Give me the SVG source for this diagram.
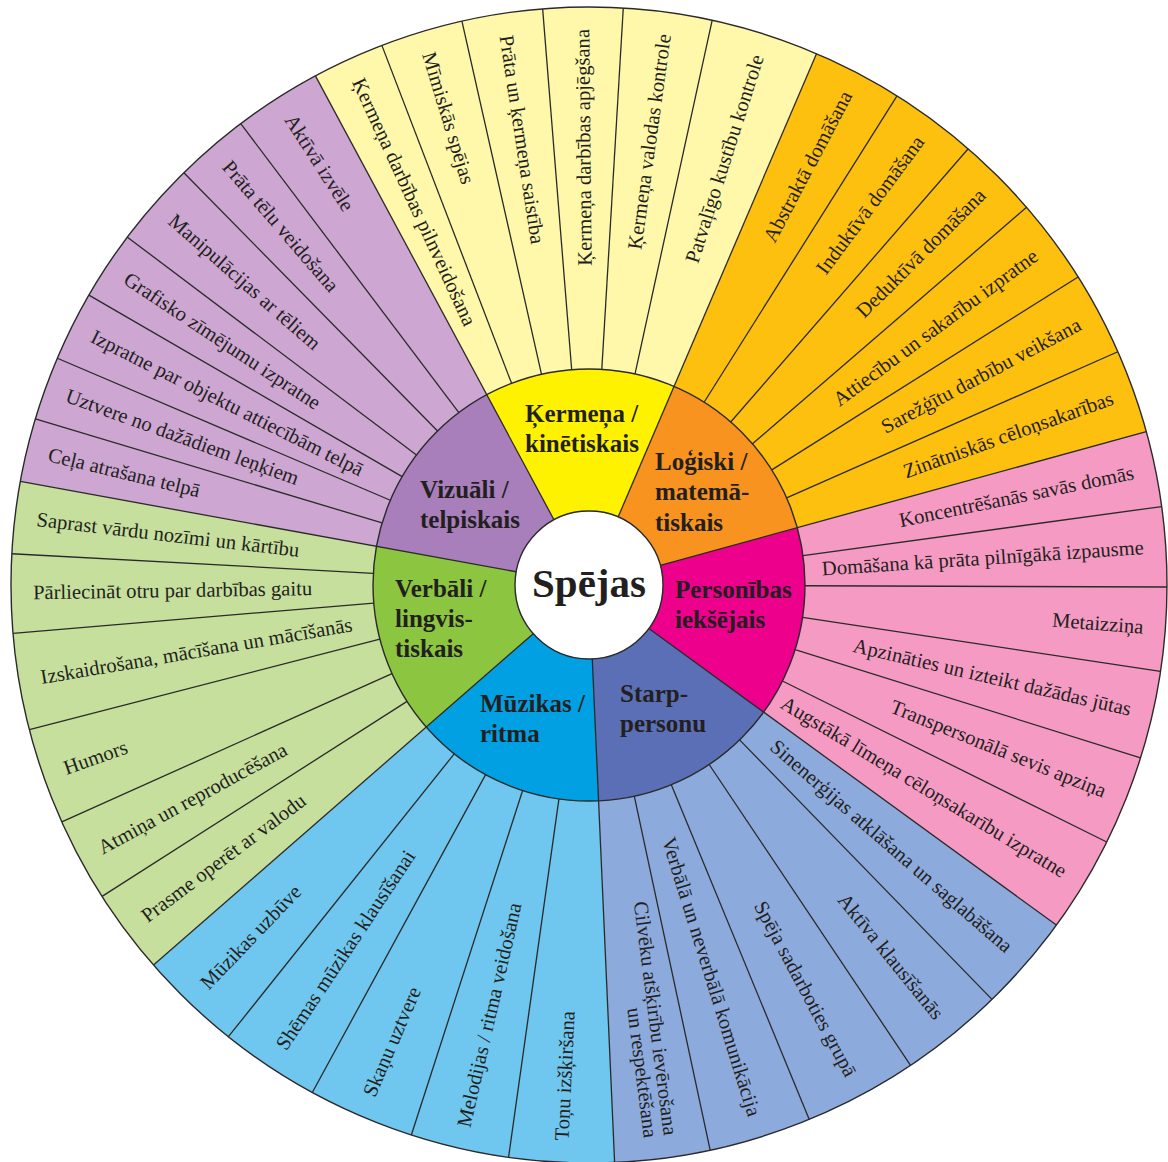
<svg xmlns="http://www.w3.org/2000/svg" xmlns:xlink="http://www.w3.org/1999/xlink" width="1168" height="1162" viewBox="0 0 1168 1162">
<defs>
<style>
.o{font-family:"Liberation Serif","Times New Roman",serif;font-size:20.6px;fill:#231F20}
.m{font-family:"Liberation Serif","Times New Roman",serif;font-size:25px;font-weight:bold;fill:#231F20}
.c{font-family:"Liberation Serif","Times New Roman",serif;font-size:41px;font-weight:bold;fill:#231F20}
.e{text-anchor:end}
.sp line{stroke:#2a2a2a;stroke-width:1.3}
.ring{fill:none;stroke:#2a2a2a;stroke-width:1.4}
</style>
<path id="ow" d="M589 585 L589 7 A578 578 0 0 1 1040.9 224.62 Z"/>
<path id="mw" d="M589 585 L589 369 A216 216 0 0 1 757.88 450.33 Z"/>
</defs>
<rect width="1168" height="1162" fill="#ffffff"/>

<g id="outer-fills">
<use xlink:href="#ow" fill="#FFF8AA" transform="rotate(-28.25 589 585)"/>
<use xlink:href="#ow" fill="#FEC00F" transform="rotate(23.18 589 585)"/>
<use xlink:href="#ow" fill="#F59BC3" transform="rotate(74.61 589 585)"/>
<use xlink:href="#ow" fill="#8DAADC" transform="rotate(126.04 589 585)"/>
<use xlink:href="#ow" fill="#6FC6EE" transform="rotate(177.46 589 585)"/>
<use xlink:href="#ow" fill="#C6DF9C" transform="rotate(228.89 589 585)"/>
<use xlink:href="#ow" fill="#CDA6D2" transform="rotate(280.32 589 585)"/>
</g>
<g id="middle-fills">
<use xlink:href="#mw" fill="#FFF200" transform="rotate(-28.25 589 585)"/>
<use xlink:href="#mw" fill="#F7931E" transform="rotate(23.18 589 585)"/>
<use xlink:href="#mw" fill="#EC008C" transform="rotate(74.61 589 585)"/>
<use xlink:href="#mw" fill="#5A6FB6" transform="rotate(126.04 589 585)"/>
<use xlink:href="#mw" fill="#00A0E2" transform="rotate(177.46 589 585)"/>
<use xlink:href="#mw" fill="#8CC640" transform="rotate(228.89 589 585)"/>
<use xlink:href="#mw" fill="#A87FBA" transform="rotate(280.32 589 585)"/>
</g>

<g id="connectors" class="sp">
<line x1="589" y1="511" x2="589" y2="7" transform="rotate(-28.25 589 585)"/>
<line x1="589" y1="511" x2="589" y2="7" transform="rotate(23.18 589 585)"/>
<line x1="589" y1="511" x2="589" y2="7" transform="rotate(74.61 589 585)"/>
<line x1="589" y1="511" x2="589" y2="7" transform="rotate(126.04 589 585)"/>
<line x1="589" y1="511" x2="589" y2="7" transform="rotate(177.46 589 585)"/>
<line x1="589" y1="511" x2="589" y2="7" transform="rotate(228.89 589 585)"/>
<line x1="589" y1="511" x2="589" y2="7" transform="rotate(280.32 589 585)"/>
<line x1="589" y1="369" x2="589" y2="7" transform="rotate(-21 589 585)"/>
<line x1="589" y1="369" x2="589" y2="7" transform="rotate(-12.7 589 585)"/>
<line x1="589" y1="369" x2="589" y2="7" transform="rotate(-4.6 589 585)"/>
<line x1="589" y1="369" x2="589" y2="7" transform="rotate(3.4 589 585)"/>
<line x1="589" y1="369" x2="589" y2="7" transform="rotate(12.3 589 585)"/>
<line x1="589" y1="369" x2="589" y2="7" transform="rotate(32.2 589 585)"/>
<line x1="589" y1="369" x2="589" y2="7" transform="rotate(41 589 585)"/>
<line x1="589" y1="369" x2="589" y2="7" transform="rotate(49.2 589 585)"/>
<line x1="589" y1="369" x2="589" y2="7" transform="rotate(57.8 589 585)"/>
<line x1="589" y1="369" x2="589" y2="7" transform="rotate(66.2 589 585)"/>
<line x1="589" y1="369" x2="589" y2="7" transform="rotate(82.2 589 585)"/>
<line x1="589" y1="369" x2="589" y2="7" transform="rotate(90.2 589 585)"/>
<line x1="589" y1="369" x2="589" y2="7" transform="rotate(98.6 589 585)"/>
<line x1="589" y1="369" x2="589" y2="7" transform="rotate(107.4 589 585)"/>
<line x1="589" y1="369" x2="589" y2="7" transform="rotate(116.4 589 585)"/>
<line x1="589" y1="369" x2="589" y2="7" transform="rotate(135.8 589 585)"/>
<line x1="589" y1="369" x2="589" y2="7" transform="rotate(146.2 589 585)"/>
<line x1="589" y1="369" x2="589" y2="7" transform="rotate(157.6 589 585)"/>
<line x1="589" y1="369" x2="589" y2="7" transform="rotate(167.9 589 585)"/>
<line x1="589" y1="369" x2="589" y2="7" transform="rotate(188 589 585)"/>
<line x1="589" y1="369" x2="589" y2="7" transform="rotate(197.9 589 585)"/>
<line x1="589" y1="369" x2="589" y2="7" transform="rotate(208.6 589 585)"/>
<line x1="589" y1="369" x2="589" y2="7" transform="rotate(218.6 589 585)"/>
<line x1="589" y1="369" x2="589" y2="7" transform="rotate(237.4 589 585)"/>
<line x1="589" y1="369" x2="589" y2="7" transform="rotate(245.8 589 585)"/>
<line x1="589" y1="369" x2="589" y2="7" transform="rotate(255.5 589 585)"/>
<line x1="589" y1="369" x2="589" y2="7" transform="rotate(265.2 589 585)"/>
<line x1="589" y1="369" x2="589" y2="7" transform="rotate(273.1 589 585)"/>
<line x1="589" y1="369" x2="589" y2="7" transform="rotate(286.7 589 585)"/>
<line x1="589" y1="369" x2="589" y2="7" transform="rotate(293.1 589 585)"/>
<line x1="589" y1="369" x2="589" y2="7" transform="rotate(300.1 589 585)"/>
<line x1="589" y1="369" x2="589" y2="7" transform="rotate(307 589 585)"/>
<line x1="589" y1="369" x2="589" y2="7" transform="rotate(315.5 589 585)"/>
<line x1="589" y1="369" x2="589" y2="7" transform="rotate(322.95 589 585)"/>
</g>

<circle class="ring" cx="589" cy="585" r="578"/>
<circle class="ring" cx="589" cy="585" r="216"/>

<g id="items-kermena">
<text class="o" x="33" y="591" transform="rotate(65.37 589 585)">Ķermeņa darbības pilnveidošana</text>
<text class="o" x="33" y="591" transform="rotate(73.15 589 585)">Mīmiskās spējas</text>
<text class="o" x="33" y="591" transform="rotate(81.35 589 585)">Prāta un ķermeņa saistība</text>
<text class="o e" x="1145" y="591" transform="rotate(-90.6 589 585)">Ķermeņa darbības apjēgšana</text>
<text class="o e" x="1145" y="591" transform="rotate(-82.15 589 585)">Ķermeņa valodas kontrole</text>
<text class="o e" x="1145" y="591" transform="rotate(-72.26 589 585)">Patvaļīgo kustību kontrole</text>
</g>
<g id="items-logiski">
<text class="o e" x="1145" y="591" transform="rotate(-62.31 589 585)">Abstraktā domāšana</text>
<text class="o e" x="1145" y="591" transform="rotate(-53.4 589 585)">Induktīvā domāšana</text>
<text class="o e" x="1145" y="591" transform="rotate(-44.9 589 585)">Deduktīvā domāšana</text>
<text class="o e" x="1145" y="591" transform="rotate(-36.5 589 585)">Attiecību un sakarību izpratne</text>
<text class="o e" x="1145" y="591" transform="rotate(-28 589 585)">Sarežģītu darbību veikšana</text>
<text class="o e" x="1145" y="591" transform="rotate(-19.6 589 585)">Zinātniskās cēloņsakarības</text>
</g>
<g id="items-personibas">
<text class="o e" x="1145" y="591" transform="rotate(-11.6 589 585)">Koncentrēšanās savās domās</text>
<text class="o e" x="1145" y="591" transform="rotate(-3.8 589 585)">Domāšana kā prāta pilnīgākā izpausme</text>
<text class="o e" x="1145" y="591" transform="rotate(4.4 589 585)">Metaizziņa</text>
<text class="o e" x="1145" y="591" transform="rotate(13 589 585)">Apzināties un izteikt dažādas jūtas</text>
<text class="o e" x="1145" y="591" transform="rotate(21.9 589 585)">Transpersonālā sevis apziņa</text>
<text class="o e" x="1145" y="591" transform="rotate(31.22 589 585)">Augstākā līmeņa cēloņsakarību izpratne</text>
</g>
<g id="items-starppersonu">
<text class="o e" x="1145" y="591" transform="rotate(40.92 589 585)">Sinenerģijas atklāšana un saglabāšana</text>
<text class="o e" x="1145" y="591" transform="rotate(51 589 585)">Aktīva klausīšanās</text>
<text class="o e" x="1145" y="591" transform="rotate(61.9 589 585)">Spēja sadarboties grupā</text>
<text class="o e" x="1145" y="591" transform="rotate(72.75 589 585)">Verbālā un neverbālā komunikācija</text>
<text class="o e" x="1145" y="581" transform="rotate(82.68 589 585)">Cilvēku atšķirību ievērošana</text>
<text class="o e" x="1145" y="601" transform="rotate(82.68 589 585)">un respektēšana</text>
</g>
<g id="items-muzikas">
<text class="o" x="33" y="591" transform="rotate(272.73 589 585)">Toņu izšķiršana</text>
<text class="o" x="33" y="591" transform="rotate(282.95 589 585)">Melodijas / ritma veidošana</text>
<text class="o" x="33" y="591" transform="rotate(293.25 589 585)">Skaņu uztvere</text>
<text class="o" x="33" y="591" transform="rotate(303.6 589 585)">Shēmas mūzikas klausīšanai</text>
<text class="o" x="33" y="591" transform="rotate(313.75 589 585)">Mūzikas uzbūve</text>
</g>
<g id="items-verbali">
<text class="o" x="33" y="591" transform="rotate(323.15 589 585)">Prasme operēt ar valodu</text>
<text class="o" x="33" y="591" transform="rotate(331.6 589 585)">Atmiņa un reproducēšana</text>
<text class="o" x="33" y="591" transform="rotate(340.65 589 585)">Humors</text>
<text class="o" x="33" y="591" transform="rotate(350.35 589 585)">Izskaidrošana, mācīšana un mācīšanās</text>
<text class="o" x="33" y="591" transform="rotate(359.15 589 585)">Pārliecināt otru par darbības gaitu</text>
<text class="o" x="33" y="591" transform="rotate(6.71 589 585)">Saprast vārdu nozīmi un kārtību</text>
</g>
<g id="items-vizuali">
<text class="o" x="33" y="591" transform="rotate(13.51 589 585)">Ceļa atrašana telpā</text>
<text class="o" x="33" y="591" transform="rotate(19.9 589 585)">Uztvere no dažādiem leņķiem</text>
<text class="o" x="33" y="591" transform="rotate(26.6 589 585)">Izpratne par objektu attiecībām telpā</text>
<text class="o" x="33" y="591" transform="rotate(33.55 589 585)">Grafisko zīmējumu izpratne</text>
<text class="o" x="33" y="591" transform="rotate(41.25 589 585)">Manipulācijas ar tēliem</text>
<text class="o" x="33" y="591" transform="rotate(49.23 589 585)">Prāta tēlu veidošana</text>
<text class="o" x="33" y="591" transform="rotate(57.35 589 585)">Aktīvā izvēle</text>
</g>

<g id="cat-kermena"><text class="m" x="525" y="422">Ķermeņa /</text><text class="m" x="525" y="452">kinētiskais</text></g>
<g id="cat-logiski"><text class="m" x="655" y="470">Loģiski /</text><text class="m" x="655" y="500">matemā-</text><text class="m" x="655" y="531">tiskais</text></g>
<g id="cat-personibas"><text class="m" x="675" y="598">Personības</text><text class="m" x="675" y="628">iekšējais</text></g>
<g id="cat-starppersonu"><text class="m" x="620" y="702">Starp-</text><text class="m" x="620" y="732">personu</text></g>
<g id="cat-muzikas"><text class="m" x="480" y="712">Mūzikas /</text><text class="m" x="480" y="742">ritma</text></g>
<g id="cat-verbali"><text class="m" x="395" y="597">Verbāli /</text><text class="m" x="395" y="627">lingvis-</text><text class="m" x="395" y="657">tiskais</text></g>
<g id="cat-vizuali"><text class="m" x="420" y="498">Vizuāli /</text><text class="m" x="420" y="528">telpiskais</text></g>

<g id="center">
<circle cx="589" cy="585" r="74" fill="#ffffff" stroke="#2a2a2a" stroke-width="1.4"/>
<text class="c" x="589" y="597" text-anchor="middle">Spējas</text>
</g>
</svg>
